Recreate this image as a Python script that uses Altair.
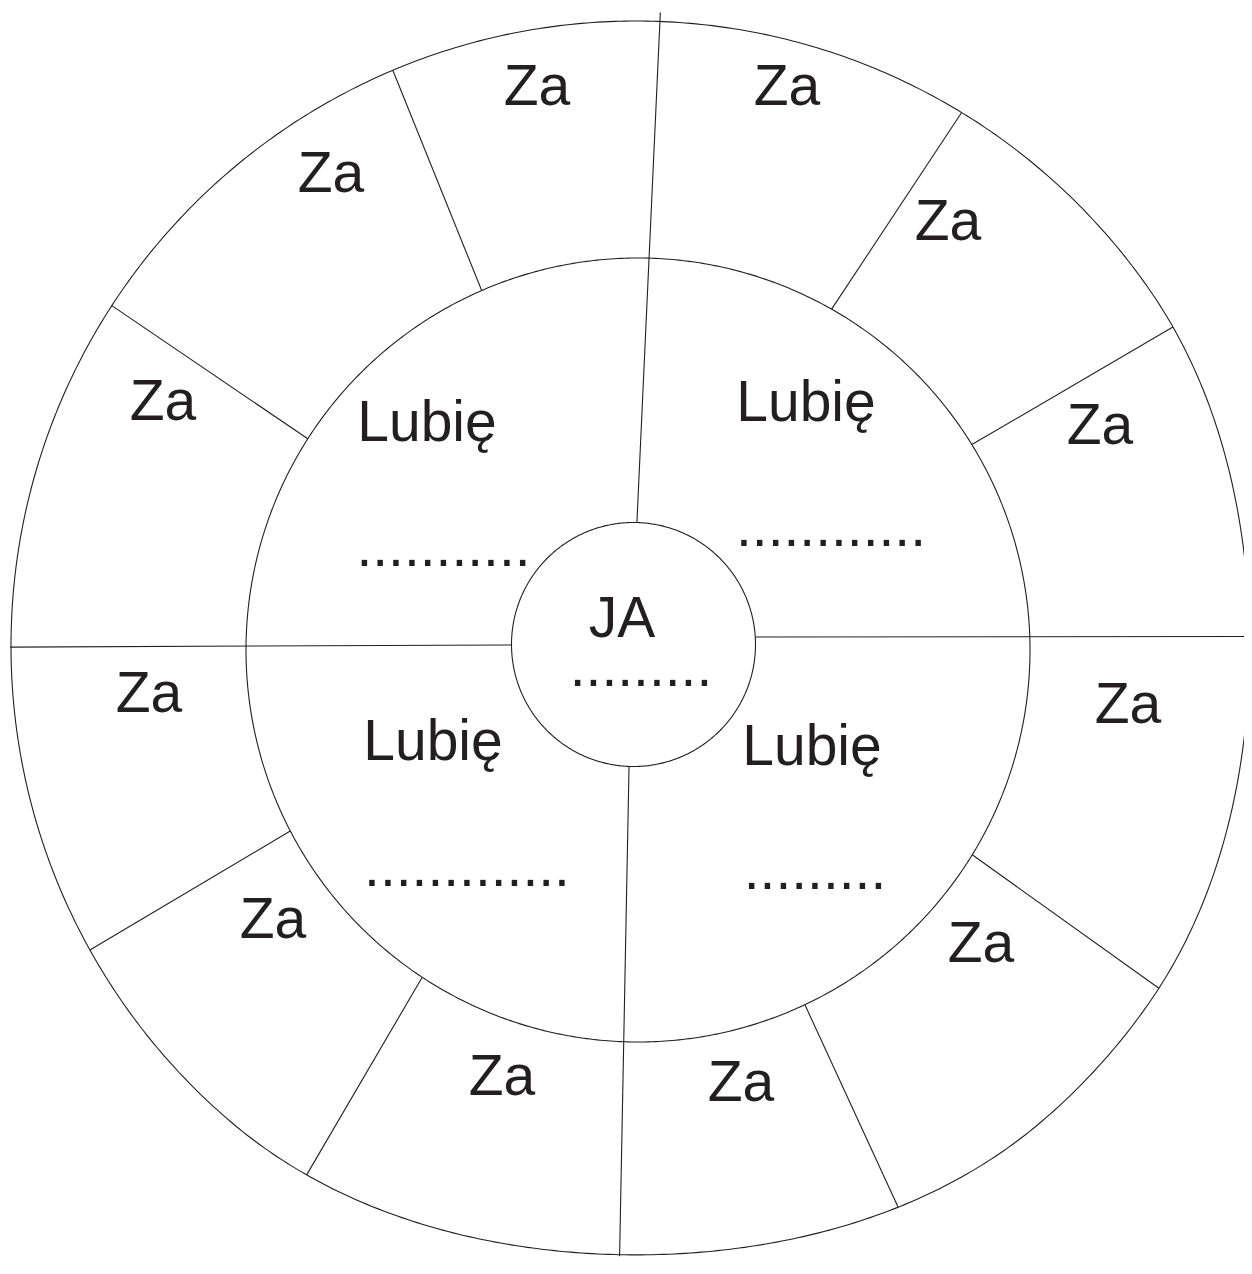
import numpy as np
import pandas as pd
import altair as alt

# ---------------- data ----------------
# circles (centre x, centre y, radius) in the drawing's coordinate frame
circle_names = ["outer", "middle", "inner"]
circle_cx = [636.0, 638.0, 633.5]
circle_cy = [646.0, 650.0, 644.5]
circle_r = [625.0, 392.0, 122.0]

# dividing lines: start on a circle at an angle, end at an angle/radius from the outer centre
line_start_circle = ["middle"] * 8 + ["inner"] * 4
line_start_angle = [113.5, 147.4, 60.4, 31.6, -31.5, -64.8, -123.4, -152.5, 88.4, 3.5, -92.1, -179.8]
line_end_angle = [112.9, 147.0, 58.6, 30.7, -33.2, -65.2, -121.8, -150.9, 87.8, 0.84, -91.5, -179.9]
line_end_radius = [625, 625, 625, 625, 625, 625, 625, 625, 634, 645, 627, 626]

# labels
za_x = [537, 787, 948, 1100, 1128, 981, 741, 502, 273, 149, 163, 331]
za_y = [105, 105, 240, 444, 723, 962, 1101, 1095, 938, 712, 420, 192]

lubie_x = [427, 806, 433, 812]
lubie_y = [441, 421, 760, 765]

ja_x = [622]
ja_y = [637]

dots_count = [11, 12, 13, 9, 9]
dots_x = [443.5, 831, 467, 815, 641]
dots_y = [566, 546, 886, 889, 686]

# ---------------- build tables ----------------
rows = []
t = np.linspace(0, 2 * np.pi, 721)
for name, cx, cy, r in zip(circle_names, circle_cx, circle_cy, circle_r):
    for i, a in enumerate(t):
        rows.append({"c": name, "i": i, "x": cx + r * np.cos(a), "y": cy - r * np.sin(a)})
circles = pd.DataFrame(rows)

cmap = {n: (cx, cy, r) for n, cx, cy, r in zip(circle_names, circle_cx, circle_cy, circle_r)}
seg = []
for sc, sa, ea, er in zip(line_start_circle, line_start_angle, line_end_angle, line_end_radius):
    cx, cy, r = cmap[sc]
    ocx, ocy, _ = cmap["outer"]
    seg.append({
        "x": cx + r * np.cos(np.radians(sa)),
        "y": cy - r * np.sin(np.radians(sa)),
        "x2": ocx + er * np.cos(np.radians(ea)),
        "y2": ocy - er * np.sin(np.radians(ea)),
    })
segments = pd.DataFrame(seg)

labels = pd.DataFrame(
    [{"t": "Za", "x": x, "y": y} for x, y in zip(za_x, za_y)]
    + [{"t": "Lubię", "x": x, "y": y} for x, y in zip(lubie_x, lubie_y)]
    + [{"t": "JA", "x": x, "y": y} for x, y in zip(ja_x, ja_y)]
    + [{"t": "." * n, "x": x, "y": y} for n, x, y in zip(dots_count, dots_x, dots_y)]
)

# ---------------- chart ----------------
# page margin is 8px: plot area spans screen x 8..1244, y 8..1258
W, H = 1236, 1250


def soft_edge(lo, knee, hi, end_px):
    """Piecewise scale: 1:1 up to `knee`, then a smooth squeeze so `hi` lands on `end_px`."""
    k = ((hi - lo) - end_px) / (hi - knee) ** 2
    dom = [lo] + list(np.arange(knee, hi, 5.0)) + [hi]
    rng = [0.0] + [float(d - lo - k * (d - knee) ** 2) for d in dom[1:]]
    return [float(d) for d in dom], rng


xd, xr = soft_edge(8, 1150, 1254, W)
yd, yr = soft_edge(8, 1120, 1275, H)
xs = alt.Scale(domain=xd, range=xr, nice=False, zero=False)
ys = alt.Scale(domain=yd, range=yr, nice=False, zero=False)
INK = "#231f20"

circle_layer = alt.Chart(circles).mark_line(color=INK, strokeWidth=1.1, clip=True).encode(
    x=alt.X("x:Q", scale=xs, axis=None),
    y=alt.Y("y:Q", scale=ys, axis=None),
    detail="c:N",
    order="i:Q",
)

line_layer = alt.Chart(segments).mark_rule(color=INK, strokeWidth=1.1, clip=True).encode(
    x=alt.X("x:Q", scale=xs, axis=None),
    y=alt.Y("y:Q", scale=ys, axis=None),
    x2="x2:Q",
    y2="y2:Q",
)

text_layer = alt.Chart(labels).mark_text(
    font="Liberation Sans", fontSize=57, color=INK, align="center", baseline="alphabetic"
).encode(
    x=alt.X("x:Q", scale=xs, axis=None),
    y=alt.Y("y:Q", scale=ys, axis=None),
    text="t:N",
)

chart = alt.layer(circle_layer, line_layer, text_layer).properties(
    width=W, height=H, padding=0, autosize="none", background="white"
).configure_view(stroke=None)

chart.save("out.html", embed_options={"renderer": "svg", "actions": False})
